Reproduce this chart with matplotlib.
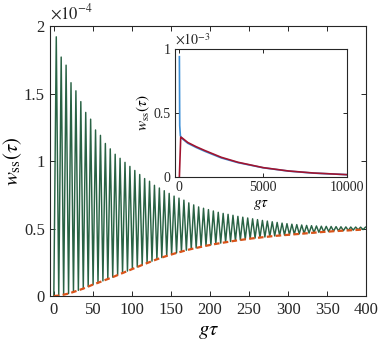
import matplotlib
matplotlib.use("Agg")
import matplotlib.pyplot as plt
import numpy as np

plt.rcParams['font.family'] = ['Liberation Serif', 'DejaVu Serif']
plt.rcParams['mathtext.fontset'] = 'stix'
plt.rcParams['xtick.direction'] = 'in'
plt.rcParams['ytick.direction'] = 'in'

# main panel, values in units of 1e-4
# peak heights, one per oscillation (period 2*pi in g*tau)
peak_vals = [1.92, 1.77, 1.71, 1.58, 1.52, 1.44, 1.36, 1.31, 1.23, 1.19,
             1.13, 1.09, 1.05, 1.02, 0.99, 0.96, 0.93, 0.90, 0.87, 0.85,
             0.82, 0.80, 0.78, 0.76, 0.74, 0.725, 0.71, 0.69, 0.675, 0.66,
             0.65, 0.64, 0.63, 0.62, 0.612, 0.605, 0.598, 0.59, 0.584, 0.578,
             0.572, 0.566, 0.56, 0.555, 0.55, 0.545, 0.54, 0.536, 0.532, 0.529,
             0.526, 0.523, 0.521, 0.519, 0.517, 0.516, 0.515, 0.514, 0.513, 0.512,
             0.511, 0.511, 0.51, 0.51]
# trough values (time averaged curve, orange)
trough_vals = [0.0, 0.003, 0.01, 0.018, 0.03, 0.042, 0.055, 0.07, 0.085, 0.098,
               0.112, 0.126, 0.14, 0.155, 0.17, 0.185, 0.2, 0.215, 0.23, 0.244,
               0.258, 0.272, 0.285, 0.297, 0.308, 0.319, 0.329, 0.339, 0.348, 0.356,
               0.364, 0.372, 0.379, 0.386, 0.392, 0.398, 0.404, 0.41, 0.415, 0.42,
               0.425, 0.429, 0.433, 0.437, 0.441, 0.445, 0.448, 0.451, 0.454, 0.457,
               0.46, 0.463, 0.466, 0.469, 0.472, 0.475, 0.477, 0.48, 0.482, 0.484,
               0.486, 0.488, 0.49, 0.492]
period = 2 * np.pi

# inset, values in units of 1e-3
blue_tau = [0, 20, 60, 150, 500, 1000, 1500, 2500, 3500, 5000, 6500, 8000, 10000]
blue_vals = [0.94, 0.40, 0.32, 0.30, 0.262, 0.229, 0.2, 0.147, 0.11, 0.07, 0.044, 0.028, 0.016]
red_tau = [0, 80, 150, 500, 1000, 1500, 2500, 3500, 5000, 6500, 8000, 10000]
red_vals = [0.0, 0.31, 0.305, 0.268, 0.235, 0.206, 0.152, 0.113, 0.071, 0.045, 0.029, 0.016]

green = '#1d5a3a'
orange = '#D95319'
blue = '#3b8ed6'
red = '#A2142F'
axcol = '#262626'

n = len(peak_vals)
tau_trough = np.arange(n) * period
tau_peak = tau_trough + period / 2
tau_osc = np.column_stack([tau_trough, tau_peak]).ravel()
w_osc = np.column_stack([trough_vals, peak_vals]).ravel()

fig = plt.figure(figsize=(3.82, 3.45), dpi=100)
ax = fig.add_axes([0.1317, 0.142, 0.8272, 0.7826])
ax.plot(tau_osc, w_osc, color=green, lw=1.05, alpha=0.95)
ax.plot(tau_trough, trough_vals, color=orange, lw=1.6, ls=(0, (2.5, 1.5)))
ax.set_xlim(-4.5, 400)
ax.set_ylim(0, 2)
ax.set_xticks(np.arange(0, 401, 50))
ax.set_yticks([0, 0.5, 1, 1.5, 2])
ax.set_yticklabels(['0', '0.5', '1', '1.5', '2'])
ax.tick_params(top=True, right=True, labelsize=12, length=3.5, width=0.7,
               colors=axcol, pad=4)
for s in ax.spines.values():
    s.set_linewidth(0.8)
    s.set_color(axcol)
ax.set_xlabel(r'$g\tau$', fontsize=15, labelpad=3)
ax.set_ylabel(r'$w_{\mathrm{ss}}(\tau)$', fontsize=15, labelpad=0)
ax.text(0.0, 1.01, r'$\times10^{-4}$', transform=ax.transAxes, fontsize=12,
        ha='left', va='bottom', color=axcol)

ins = fig.add_axes([0.4573, 0.4878, 0.451, 0.3701])
ins.plot(blue_tau, blue_vals, color=blue, lw=1.2)
ins.plot(red_tau, red_vals, color=red, lw=1.2)
ins.set_xlim(-280, 10000)
ins.set_ylim(0, 1)
ins.set_xticks([0, 5000, 10000])
ins.set_yticks([0, 0.5, 1])
ins.set_yticklabels(['0', '0.5', '1'])
ins.tick_params(top=True, right=True, labelsize=10, length=3, width=0.7,
                colors=axcol, pad=3)
for s in ins.spines.values():
    s.set_linewidth(0.8)
    s.set_color(axcol)
ins.set_xlabel(r'$g\tau$', fontsize=11, labelpad=3)
ins.set_ylabel(r'$w_{\mathrm{ss}}(\tau)$', fontsize=11, labelpad=1)
ins.text(0.0, 1.01, r'$\times10^{-3}$', transform=ins.transAxes, fontsize=10,
         ha='left', va='bottom', color=axcol)

fig.savefig('out.png', dpi=100)
